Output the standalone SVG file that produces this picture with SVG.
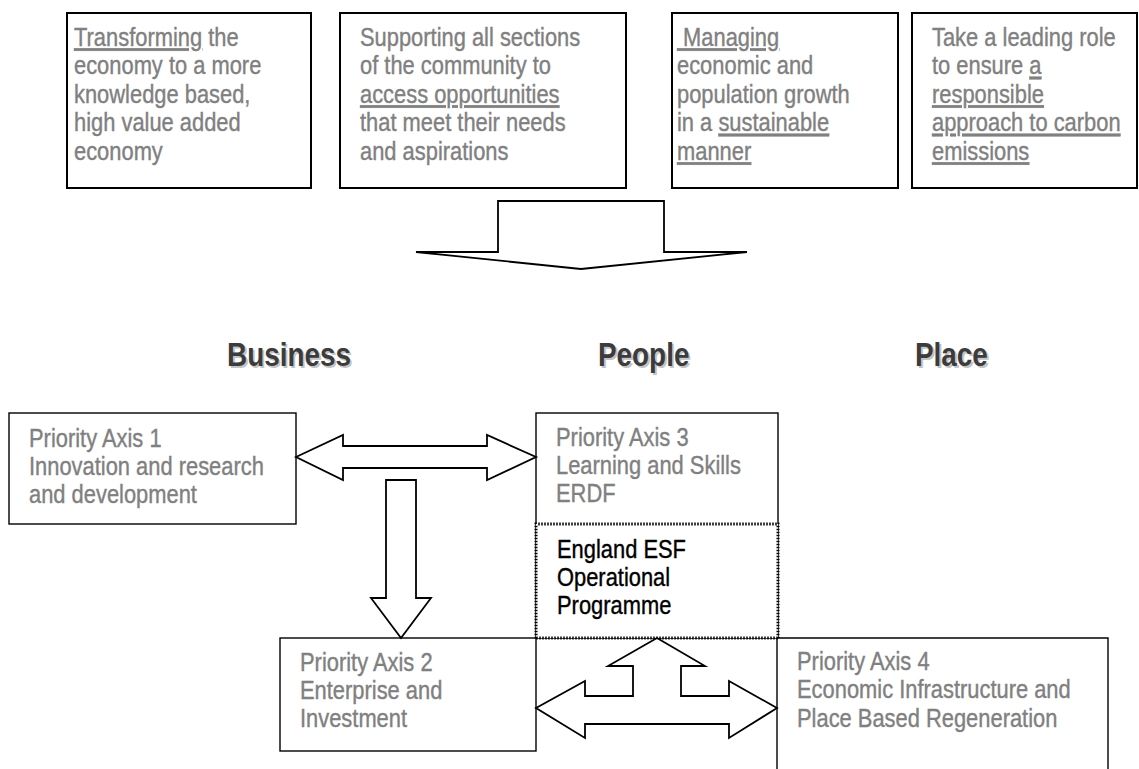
<svg xmlns="http://www.w3.org/2000/svg" width="1139" height="769" viewBox="0 0 1139 769">
  <style>
    .box { fill: #ffffff; stroke: #000000; stroke-width: 2; }
    .pbox { fill: #ffffff; stroke: #000000; stroke-width: 1.4; }
    .txt { font-family: "Liberation Sans", Arial, sans-serif; font-size: 26.7px; fill: #808080; stroke: #808080; stroke-width: 0.4; }
    .dark { fill: #000000; stroke: #000000; }
    .u { text-decoration: underline; }
    .head { font-family: "Liberation Sans", Arial, sans-serif; font-size: 34px; font-weight: bold; }
    .shadow { fill: #c4c4c4; }
    .headfg { fill: #3c3c3c; }
    .arrow { fill: #ffffff; stroke: #000000; stroke-width: 1.8; stroke-linejoin: miter; }
  </style>

  <rect width="1139" height="769" fill="#ffffff"/>

  <!-- Objective boxes; text is condensed horizontally to a narrow face -->
  <g id="objective-knowledge">
    <rect class="box" x="67" y="13" width="244" height="175"/>
    <g transform="translate(74,0) scale(0.82,1)">
      <text class="txt" x="0" y="46"><tspan class="u">Transforming</tspan> the</text>
      <text class="txt" x="0" y="74.5">economy to a more</text>
      <text class="txt" x="0" y="103">knowledge based,</text>
      <text class="txt" x="0" y="131.5">high value added</text>
      <text class="txt" x="0" y="160">economy</text>
    </g>
  </g>

  <g id="objective-access">
    <rect class="box" x="340" y="13" width="286" height="175"/>
    <g transform="translate(360,0) scale(0.82,1)">
      <text class="txt" x="0" y="46">Supporting all sections</text>
      <text class="txt" x="0" y="74.5">of the community to</text>
      <text class="txt" x="0" y="103"><tspan class="u">access opportunities</tspan></text>
      <text class="txt" x="0" y="131.5">that meet their needs</text>
      <text class="txt" x="0" y="160">and aspirations</text>
    </g>
  </g>

  <g id="objective-growth">
    <rect class="box" x="672" y="13" width="226" height="175"/>
    <g transform="translate(677,0) scale(0.82,1)">
      <text class="txt" x="0" y="46"><tspan class="u">&#160;Managing</tspan></text>
      <text class="txt" x="0" y="74.5">economic and</text>
      <text class="txt" x="0" y="103">population growth</text>
      <text class="txt" x="0" y="131.5">in a <tspan class="u">sustainable</tspan></text>
      <text class="txt" x="0" y="160"><tspan class="u">manner</tspan></text>
    </g>
  </g>

  <g id="objective-carbon">
    <rect class="box" x="912" y="13" width="225" height="175"/>
    <g transform="translate(932,0) scale(0.82,1)">
      <text class="txt" x="0" y="46">Take a leading role</text>
      <text class="txt" x="0" y="74.5">to ensure <tspan class="u">a</tspan></text>
      <text class="txt" x="0" y="103"><tspan class="u">responsible</tspan></text>
      <text class="txt" x="0" y="131.5"><tspan class="u">approach to carbon</tspan></text>
      <text class="txt" x="0" y="160"><tspan class="u">emissions</tspan></text>
    </g>
  </g>

  <!-- Theme headings with drop shadow -->
  <g id="themes" class="head">
    <g transform="translate(227,0) scale(0.82,1)">
      <text class="shadow" x="2.4" y="368">Business</text>
      <text class="headfg" x="0" y="366">Business</text>
    </g>
    <g transform="translate(598,0) scale(0.82,1)">
      <text class="shadow" x="2.4" y="368">People</text>
      <text class="headfg" x="0" y="366">People</text>
    </g>
    <g transform="translate(915,0) scale(0.82,1)">
      <text class="shadow" x="2.4" y="368">Place</text>
      <text class="headfg" x="0" y="366">Place</text>
    </g>
  </g>

  <!-- Priority axes -->
  <g id="axis-1">
    <rect class="pbox" x="9" y="413" width="287" height="111"/>
    <g transform="translate(29,0) scale(0.82,1)">
      <text class="txt" x="0" y="447">Priority Axis 1</text>
      <text class="txt" x="0" y="475">Innovation and research</text>
      <text class="txt" x="0" y="503">and development</text>
    </g>
  </g>

  <g id="axis-3">
    <rect class="pbox" x="536" y="413" width="242" height="225"/>
    <g transform="translate(556,0) scale(0.82,1)">
      <text class="txt" x="0" y="446">Priority Axis 3</text>
      <text class="txt" x="0" y="474">Learning and Skills</text>
      <text class="txt" x="0" y="502">ERDF</text>
    </g>
  </g>

  <g id="axis-2">
    <rect class="pbox" x="280" y="638" width="256" height="113"/>
    <g transform="translate(300,0) scale(0.82,1)">
      <text class="txt" x="0" y="671">Priority Axis 2</text>
      <text class="txt" x="0" y="699">Enterprise and</text>
      <text class="txt" x="0" y="727">Investment</text>
    </g>
  </g>

  <g id="axis-4">
    <path class="pbox" d="M777,775 V638 H1108 V775"/>
    <g transform="translate(797,0) scale(0.82,1)">
      <text class="txt" x="0" y="670">Priority Axis 4</text>
      <text class="txt" x="0" y="698">Economic Infrastructure and</text>
      <text class="txt" x="0" y="727">Place Based Regeneration</text>
    </g>
  </g>

  <!-- ESF programme box with checkered border -->
  <g id="esf-programme">
    <rect x="536" y="524" width="242" height="114" fill="#ffffff"/>
    <rect x="535.25" y="523.25" width="243.5" height="115.5" fill="none" stroke="#000000" stroke-width="1.5" stroke-dasharray="1.5 1.5"/>
    <rect x="536.75" y="524.75" width="240.5" height="112.5" fill="none" stroke="#000000" stroke-width="1.5" stroke-dasharray="1.5 1.5" stroke-dashoffset="1.5"/>
    <g transform="translate(557,0) scale(0.82,1)">
      <text class="txt dark" x="0" y="558">England ESF</text>
      <text class="txt dark" x="0" y="586">Operational</text>
      <text class="txt dark" x="0" y="614">Programme</text>
    </g>
  </g>

  <!-- Block arrows -->
  <g id="connectors">
    <polygon class="arrow" points="498,201 664,201 664,252 747,252 581,269 416,252 498,252"/>
    <polygon class="arrow" points="296,457 343,435 343,446 487,446 487,435 536,457 487,480 487,468 343,468 343,480"/>
    <polygon class="arrow" points="386,480 416,480 416,598 431,598 401,638 371,598 386,598"/>
    <polygon class="arrow" points="536,708 585,681 585,696 633,696 633,666 608,666 657,638 705,666 681,666 681,696 729,696 729,681 777,708 729,738 729,724 585,724 585,738"/>
  </g>
</svg>
